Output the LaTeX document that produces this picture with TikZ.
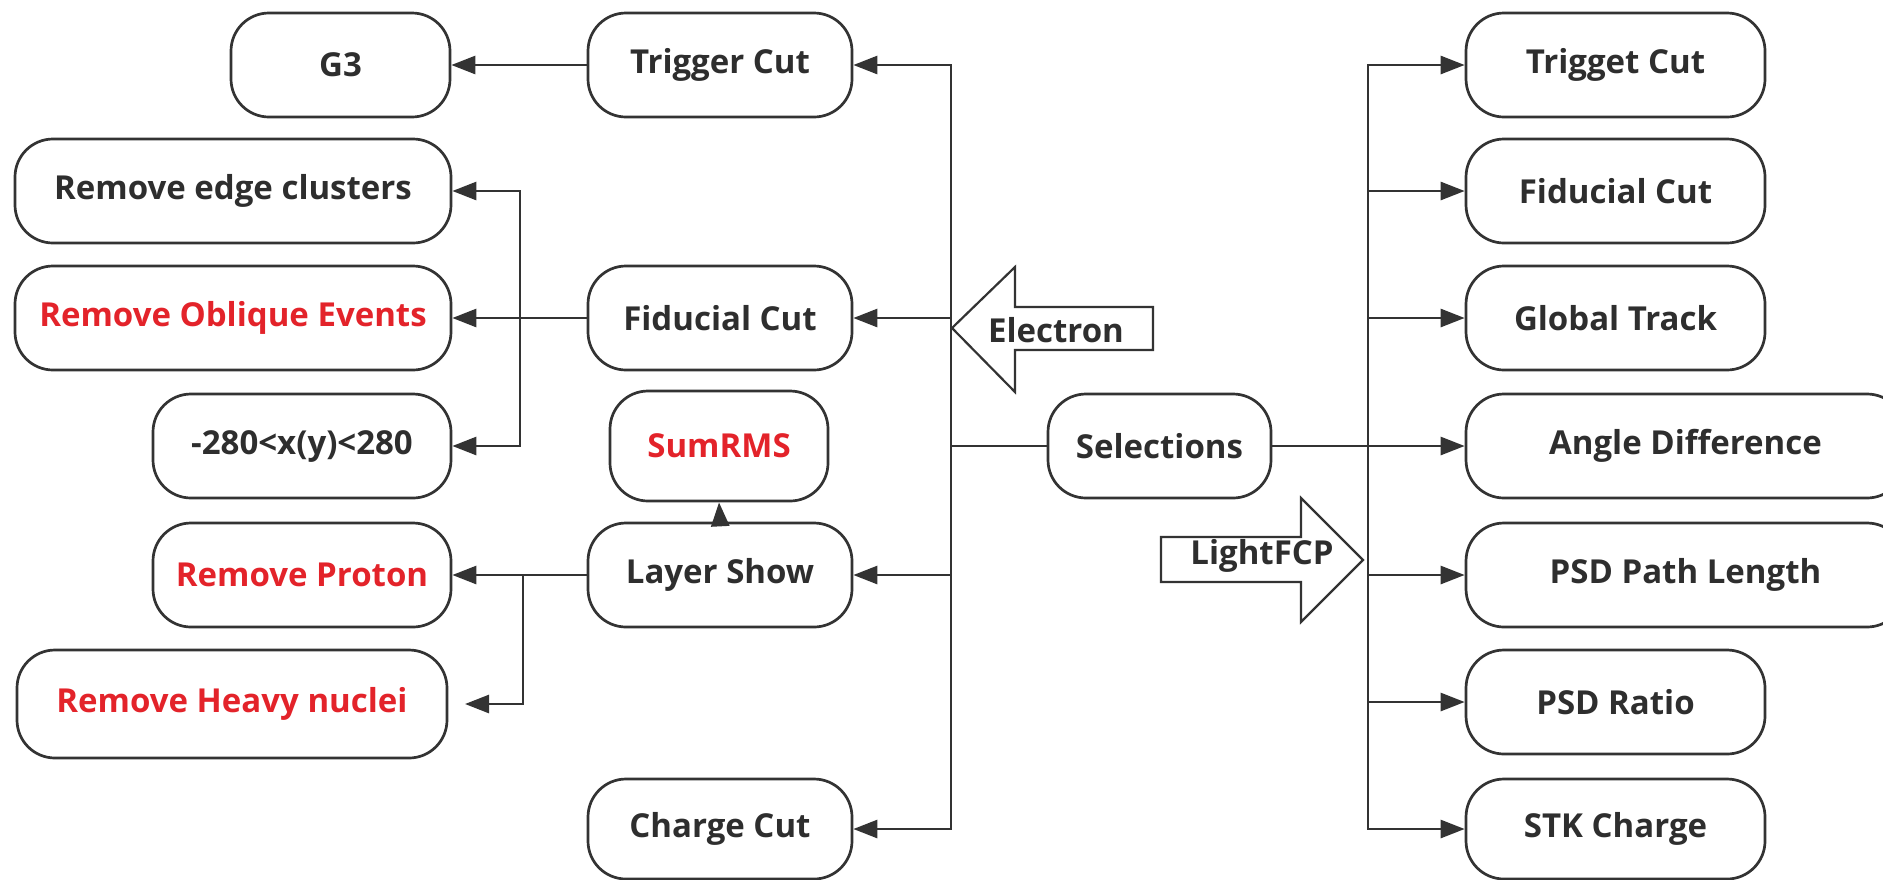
\documentclass[tikz,border=0pt]{standalone}
\usepackage{fontspec}
\setmainfont{Open Sans}
\usetikzlibrary{arrows.meta}
\definecolor{linec}{HTML}{333333}
\definecolor{textc}{HTML}{2E2E2E}
\definecolor{redc}{HTML}{E3232A}
\begin{document}
\begin{tikzpicture}[x=0.5pt,y=-0.5pt,
  box/.style={draw=linec, line width=1.35pt, rounded corners=19pt, minimum height=52pt,
    inner sep=0pt, font=\bfseries\fontsize{16.5}{19}\selectfont, text=textc},
  bw/.style={minimum width=#1*0.5pt},
  bh/.style={minimum height=#1*0.5pt},
  redtext/.style={text=redc},
  plain/.style={draw=linec, line width=1.35pt},
  conn/.style={draw=linec, line width=1.35pt, -{Triangle[length=12pt,width=9pt]}},
  blockarrow/.style={draw=linec, line width=1.1pt, line join=miter, fill=white},
  arrowtext/.style={font=\bfseries\fontsize{16.5}{19}\selectfont, text=textc, inner sep=0pt}
]
\useasboundingbox (0,0) rectangle (1883,879);

% left column
\node[box, bw=219] (g3) at (340.5,65) {G3};
\node[box, bw=436] (edge) at (233,191) {Remove edge clusters};
\node[box, bw=436, redtext] (oblique) at (233,318) {Remove Oblique Events};
\node[box, bw=298] (r280) at (302,446) {-280<x(y)<280};
\node[box, bw=298, redtext] (proton) at (302,575) {Remove Proton};
\node[box, bw=430, bh=108, redtext] (heavy) at (232,704) {Remove Heavy nuclei};

% second column
\node[box, bw=264] (trigL) at (720,65) {Trigger Cut};
\node[box, bw=264] (fidL) at (720,318) {Fiducial Cut};
\node[box, bw=218, bh=110, redtext] (sumrms) at (719,446) {SumRMS};
\node[box, bw=264] (layer) at (720,575) {Layer Show};
\node[box, bw=264, bh=100] (charge) at (720,829) {Charge Cut};

% centre
\node[box, bw=223] (sel) at (1159.5,446) {Selections};

% right column
\node[box, bw=299] (trigR) at (1615.5,65) {Trigget Cut};
\node[box, bw=299] (fidR) at (1615.5,191) {Fiducial Cut};
\node[box, bw=299] (glob) at (1615.5,318) {Global Track};
\node[box, bw=439] (angle) at (1685.5,446) {Angle Difference};
\node[box, bw=439] (psdpath) at (1685.5,575) {PSD Path Length};
\node[box, bw=299] (psdratio) at (1615.5,702) {PSD Ratio};
\node[box, bw=299, bh=100] (stk) at (1615.5,829) {STK Charge};

% left-side connectors
\draw[conn] (trigL.west) -- (g3.east);
\draw[conn] (fidL.west) -- (oblique.east);
\coordinate (fb) at (520,318);
\draw[conn] (fb) |- (edge.east);
\draw[conn] (fb) |- (r280.east);
\draw[conn] (layer.west) -- (proton.east);
\coordinate (lb) at (523,575);
\coordinate (hn) at (465,704);
\draw[conn] (lb) |- (hn);
\draw[conn] (layer.north) -- (sumrms.south);

% left trunk
\coordinate (ltrunk) at (951,446);
\draw[plain] (sel.west) -- (ltrunk);
\draw[conn] (ltrunk) |- (trigL.east);
\draw[conn] (ltrunk) |- (fidL.east);
\draw[conn] (ltrunk) |- (layer.east);
\draw[conn] (ltrunk) |- (charge.east);

% right trunk
\coordinate (rtrunk) at (1368,446);
\draw[plain] (sel.east) -- (rtrunk);
\draw[conn] (rtrunk) |- (trigR.west);
\draw[conn] (rtrunk) |- (fidR.west);
\draw[conn] (rtrunk) |- (glob.west);
\draw[conn] (rtrunk) -- (angle.west);
\draw[conn] (rtrunk) |- (psdpath.west);
\draw[conn] (rtrunk) |- (psdratio.west);
\draw[conn] (rtrunk) |- (stk.west);

% block arrows
\draw[blockarrow] (952,328) -- (1015,267) -- (1015,307) -- (1153,307) -- (1153,350)
  -- (1015,350) -- (1015,392) -- cycle;
\node[arrowtext] (electron) at (1056,330) {Electron};
\draw[blockarrow] (1363,560) -- (1301,498) -- (1301,537) -- (1161,537) -- (1161,582)
  -- (1301,582) -- (1301,622) -- cycle;
\node[arrowtext] (lightfcp) at (1262,556) {LightFCP};
\end{tikzpicture}
\end{document}
